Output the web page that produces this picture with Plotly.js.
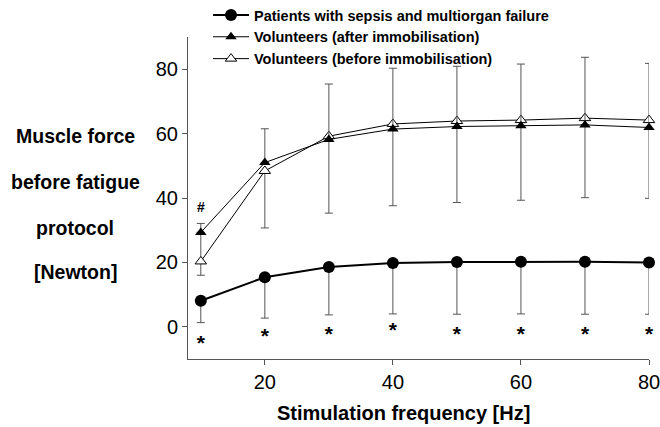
<!DOCTYPE html>
<html><head><meta charset="utf-8">
<script src="https://cdn.plot.ly/plotly-3.0.1.min.js"></script>
<style>html,body{margin:0;padding:0;background:#fff}#chart{width:660px;height:427px}</style>
</head><body><div id="chart"></div>
<script>
const freq = [10, 20, 30, 40, 50, 60, 70, 80];
const patients = [8.1, 15.4, 18.6, 19.8, 20.1, 20.2, 20.2, 20.0];
const patientsLow = [1.3, 2.7, 3.7, 4.0, 3.9, 4.0, 3.9, 3.9];
const after = [29.3, 51.0, 58.2, 61.4, 62.2, 62.4, 62.7, 61.9];
const afterHigh = [32.1, 61.5, 75.4, 80.3, 80.9, 81.6, 83.7, 81.8];
const before = [20.3, 48.4, 59.2, 63.0, 63.9, 64.2, 64.8, 64.2];
const beforeLow = [16.0, 30.7, 35.3, 37.6, 38.6, 39.3, 40.1, 39.9];
const sigY = [-5.5, -3.3, -2.8, -1.6, -2.8, -2.8, -2.8, -2.8];
const sigText = ['*', '*', '*', '*', '*', '*', '*', '*'];
const hashX = [10];
const hashY = [36.8];
const names = ['Patients with sepsis and multiorgan failure', 'Volunteers (after immobilisation)', 'Volunteers (before immobilisation)'];
const yTitleLines = ['Muscle force', 'before fatigue', 'protocol', '[Newton]'];
const xTitle = 'Stimulation frequency [Hz]';

const errColor = '#555';
const zeros = freq.map(() => 0);

const traces = [
  {
    x: freq, y: before, name: names[2], legendrank: 3, mode: 'lines+markers', type: 'scatter', cliponaxis: false,
    line: {color: '#000', width: 1},
    marker: {symbol: 'triangle-up', size: 10, color: '#fff', line: {color: '#000', width: 1}},
    error_y: {type: 'data', symmetric: false,
      array: before.map((v, i) => i === 0 ? after[i] - v : 0),
      arrayminus: before.map((v, i) => v - beforeLow[i]),
      color: errColor, thickness: 1, width: 4}
  },
  {
    x: freq, y: after, name: names[1], legendrank: 2, mode: 'lines+markers', type: 'scatter', cliponaxis: false,
    line: {color: '#000', width: 1},
    marker: {symbol: 'triangle-up', size: 10, color: '#000'},
    error_y: {type: 'data', symmetric: false,
      array: after.map((v, i) => afterHigh[i] - v),
      arrayminus: zeros,
      color: errColor, thickness: 1, width: 4}
  },
  {
    x: freq, y: patients, name: names[0], legendrank: 1, mode: 'lines+markers', type: 'scatter', cliponaxis: false,
    line: {color: '#000', width: 2},
    marker: {symbol: 'circle', size: 12, color: '#000'},
    error_y: {type: 'data', symmetric: false,
      array: zeros,
      arrayminus: patients.map((v, i) => v - patientsLow[i]),
      color: errColor, thickness: 1, width: 4}
  },
  {
    x: freq, y: sigY, text: sigText, mode: 'text', type: 'scatter', showlegend: false, cliponaxis: false,
    textfont: {family: 'Liberation Sans, Arial, sans-serif', size: 21, color: '#000', weight: 'bold'},
    textposition: 'middle center', hoverinfo: 'skip'
  },
  {
    x: hashX, y: hashY, text: ['#'], mode: 'text', type: 'scatter', showlegend: false, cliponaxis: false,
    textfont: {family: 'Liberation Sans, Arial, sans-serif', size: 14, color: '#000', weight: 'bold'},
    textposition: 'middle center', hoverinfo: 'skip'
  }
];

const lineYs = [136, 182, 228, 272];
const annotations = yTitleLines.map((t, i) => ({
  text: '<b>' + t + '</b>', xref: 'paper', yref: 'paper',
  x: (75 - 188) / (649 - 188), y: (359 - lineYs[i]) / (359 - 37),
  xanchor: 'center', yanchor: 'middle', showarrow: false,
  font: {family: 'Liberation Sans, Arial, sans-serif', size: 19.5, color: '#000'}
}));
annotations.push({
  text: '<b>' + xTitle + '</b>', xref: 'paper', yref: 'paper',
  x: (403 - 188) / (649 - 188), y: (359 - 413) / (359 - 37),
  xanchor: 'center', yanchor: 'middle', showarrow: false,
  font: {family: 'Liberation Sans, Arial, sans-serif', size: 20, color: '#000'}
});

const layout = {
  width: 660, height: 427,
  margin: {l: 188, r: 11, t: 37, b: 68, pad: 0, autoexpand: false},
  paper_bgcolor: '#fff', plot_bgcolor: '#fff',
  font: {family: 'Liberation Sans, Arial, sans-serif', color: '#000'},
  showlegend: true,
  legend: {
    x: (208 - 188) / (649 - 188), y: 1 + (37 + 1) / (359 - 37), xanchor: 'left', yanchor: 'top',
    bgcolor: 'rgba(0,0,0,0)', itemwidth: 36, tracegroupgap: 0,
    font: {family: 'Liberation Sans, Arial, sans-serif', size: 14.5, color: '#000', weight: 'bold'}
  },
  xaxis: {
    range: [8, 80], tickvals: [20, 40, 60, 80], ticks: 'outside', ticklen: 5, tickwidth: 1,
    tickcolor: '#555', showline: true, linecolor: '#555', linewidth: 1, showgrid: false, zeroline: false,
    tickfont: {size: 20, color: '#000'}, automargin: false, ticklabeloverflow: 'allow'
  },
  yaxis: {
    range: [-10, 90], tickvals: [0, 20, 40, 60, 80], ticks: 'outside', ticklen: 5, tickwidth: 1,
    tickcolor: '#555', showline: true, linecolor: '#555', linewidth: 1, showgrid: false, zeroline: false,
    tickfont: {size: 20, color: '#000'}, automargin: false, ticklabeloverflow: 'allow'
  },
  annotations: annotations
};

Plotly.newPlot('chart', traces, layout, {displayModeBar: false, staticPlot: true});
</script>
</body></html>
